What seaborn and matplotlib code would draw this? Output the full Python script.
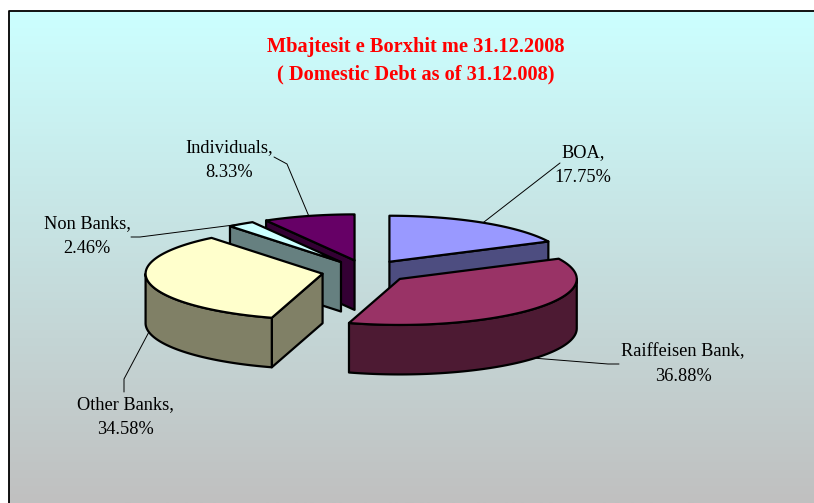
import numpy as np
import matplotlib
matplotlib.use("Agg")
import matplotlib.pyplot as plt
from matplotlib.patches import Polygon
from matplotlib.colors import LinearSegmentedColormap
import seaborn as sns

# ---- data ----
categories = ["BOA", "Raiffeisen Bank", "Other Banks", "Non Banks", "Individuals"]
shares = [17.75, 36.88, 34.58, 2.46, 8.33]
top_colors = ["#9999FF", "#993366", "#FFFFCC", "#CCFFFF", "#660066"]
title_lines = ["Mbajtesit e Borxhit me 31.12.2008", "( Domestic Debt as of 31.12.008)"]

# ---- layout (pixels of the 814x503 canvas) ----
W, H = 814, 503
CX, CY = 366.0, 271.5
RX, RY = 177.0, 46.0
DEPTH = 49.5
EXPLODE = 0.25
draw_order = [4, 3, 2, 0, 1]
label_pos = {"BOA": (583, 165), "Raiffeisen Bank": (683, 364), "Other Banks": (125, 417),
             "Non Banks": (87, 236), "Individuals": (229, 160)}
leader_via = {"BOA": [(560, 163)], "Raiffeisen Bank": [(608, 364), (619, 364)],
              "Other Banks": [(124, 379), (124, 392)], "Non Banks": [(140, 237), (131, 237)],
              "Individuals": [(287, 164), (274, 157)]}

sns.set_theme(style="white")
plt.rcParams["font.family"] = ["Liberation Serif", "DejaVu Serif"]

fig = plt.figure(figsize=(W / 100, H / 100), dpi=100, facecolor="white")
ax = fig.add_axes([0, 0, 1, 1])
ax.axis("off")

# gradient panel
cmap = LinearSegmentedColormap.from_list("bg", sns.blend_palette(["#CCFFFF", "#C0C0C0"], 32))
grad = np.linspace(0, 1, 256).reshape(-1, 1)
ax.imshow(grad, cmap=cmap, extent=(9, W, H, 11), aspect="auto", zorder=0)
ax.set_xlim(0, W)
ax.set_ylim(H, 0)
ax.plot([8.5, 8.5, W], [H, 10.5, 10.5], color="black", lw=1.3, zorder=1, solid_capstyle="butt")


def shade(c):
    r, g, b = matplotlib.colors.to_rgb(c)
    return (r * 0.5, g * 0.5, b * 0.5)


def rim(a, b, apex, n=80):
    t = np.radians(np.linspace(a, b, n))
    return np.column_stack([apex[0] + RX * np.sin(t), apex[1] - RY * np.cos(t)])


fractions = np.array(shares) / sum(shares) * 360
ends = np.cumsum(fractions)
starts = ends - fractions
z = 2
apexes = {}
for i in draw_order:
    a, b = starts[i], ends[i]
    mid = np.radians((a + b) / 2)
    apex = np.array([CX + EXPLODE * RX * np.sin(mid), CY - EXPLODE * RY * np.cos(mid)])
    apexes[i] = apex
    side = shade(top_colors[i])
    drop = np.array([0, DEPTH])
    style = dict(edgecolor="black", lw=1.6, joinstyle="round")
    if np.sin(np.radians(b)) > 0.01:   # end radial face looks at the viewer
        p = rim(b, b, apex, 1)[0]
        ax.add_patch(Polygon([apex, p, p + drop, apex + drop], facecolor=side, zorder=z, **style))
    if np.sin(np.radians(a)) < -0.01:  # start radial face looks at the viewer
        p = rim(a, a, apex, 1)[0]
        ax.add_patch(Polygon([apex, p, p + drop, apex + drop], facecolor=side, zorder=z, **style))
    lo, hi = max(a, 90), min(b, 270)
    if hi > lo:                        # front part of the outer wall
        arc = rim(lo, hi, apex)
        ax.add_patch(Polygon(np.vstack([arc, arc[::-1] + drop]), facecolor=side, zorder=z, **style))
    ax.add_patch(Polygon(np.vstack([apex, rim(a, b, apex)]), facecolor=top_colors[i], zorder=z, **style))
    z += 1

# labels and leaders
for i, name in enumerate(categories):
    mid = np.radians((starts[i] + ends[i]) / 2)
    anchor = apexes[i] + [RX * np.sin(mid), -RY * np.cos(mid)]
    if np.cos(mid) < 0:
        anchor = anchor + [0, DEPTH]
    pts = np.vstack([anchor, leader_via[name]])
    ax.plot(pts[:, 0], pts[:, 1], color="black", lw=0.7, zorder=1.5)
    x, y = label_pos[name]
    ax.text(x, y, f"{name},\n{shares[i]:.2f}%", ha="center", va="center", fontsize=13.2,
            color="black", linespacing=1.6, zorder=20)

ax.text(415.5, 47, title_lines[0], ha="center", va="center", fontsize=14.7, fontweight="bold", color="#FF0000")
ax.text(415.5, 74, title_lines[1], ha="center", va="center", fontsize=14.7, fontweight="bold", color="#FF0000")

fig.savefig("out.png", dpi=100, facecolor="white")
